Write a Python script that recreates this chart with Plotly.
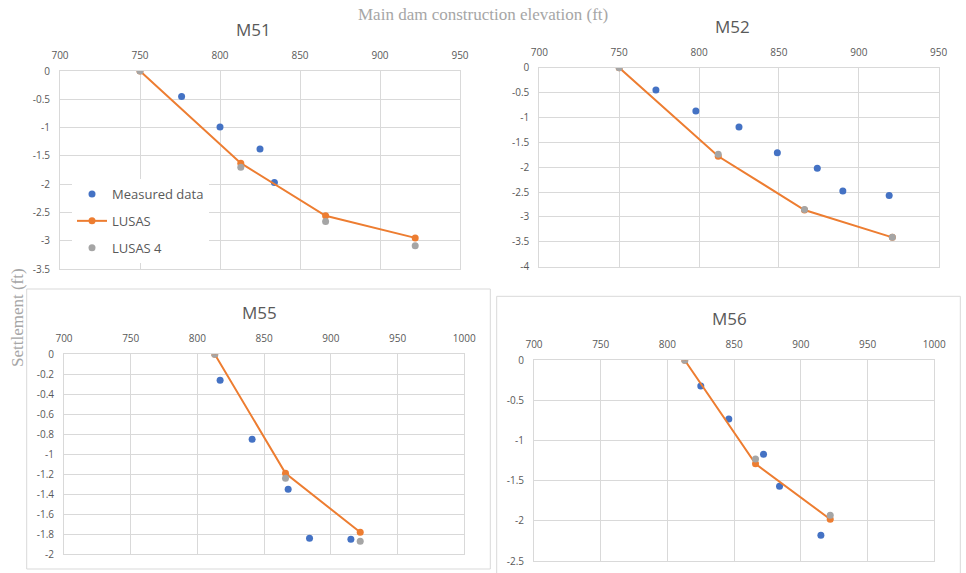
import plotly.graph_objects as go

W, H = 966, 573

# ---------------- data ----------------
m51_meas_x = [776, 800, 825, 834]
m51_meas_y = [-0.45, -0.99, -1.38, -1.97]
m51_lusas_x = [750, 813, 866, 922]
m51_lusas_y = [0, -1.63, -2.56, -2.95]
m51_lusas4_x = [750, 813, 866, 922]
m51_lusas4_y = [0, -1.70, -2.66, -3.09]

m52_meas_x = [773, 798, 825, 849, 874, 890, 919]
m52_meas_y = [-0.45, -0.87, -1.19, -1.71, -2.02, -2.48, -2.57]
m52_lusas_x = [750, 812, 866, 921]
m52_lusas_y = [0, -1.78, -2.86, -3.41]
m52_lusas4_x = [750, 812, 866, 921]
m52_lusas4_y = [0, -1.74, -2.85, -3.41]

m55_meas_x = [817, 841, 868, 884, 915]
m55_meas_y = [-0.26, -0.85, -1.35, -1.84, -1.85]
m55_lusas_x = [813, 866, 922]
m55_lusas_y = [0, -1.19, -1.78]
m55_lusas4_x = [813, 866, 922]
m55_lusas4_y = [0, -1.24, -1.87]

m56_meas_x = [825, 846, 872, 884, 915]
m56_meas_y = [-0.32, -0.73, -1.17, -1.57, -2.18]
m56_lusas_x = [813, 866, 922]
m56_lusas_y = [0, -1.29, -1.98]
m56_lusas4_x = [813, 866, 922]
m56_lusas4_y = [0, -1.23, -1.93]

panel_titles = ["M51", "M52", "M55", "M56"]
series_names = ["Measured data", "LUSAS", "LUSAS 4"]
x_ranges = [(700, 950), (700, 950), (700, 1000), (700, 1000)]
y_ranges = [(-3.5, 0), (-4, 0), (-2, 0), (-2.5, 0)]
y_steps = [0.5, 0.5, 0.2, 0.5]
x_step = 50

main_title = "Main dam construction elevation (ft)"
y_title = "Settlement (ft)"

# ---------------- styling ----------------
BLUE = "#4472C4"
ORANGE = "#ED7D31"
GRAY = "#A5A5A5"
GRID = "#D9D9D9"
TXT = "#595959"
FONT = "Open Sans"

# plot-area boxes in pixels: (left, top, right, bottom)
boxes = [
    (60, 71, 460, 269),
    (539.3, 67.7, 938.7, 266.7),
    (64, 354.3, 464.3, 554.3),
    (534, 360.3, 934.3, 561),
]
title_pos = [(253, 30), (732, 26), (259, 312), (729, 318)]

data = [
    (m51_meas_x, m51_meas_y, m51_lusas_x, m51_lusas_y, m51_lusas4_x, m51_lusas4_y),
    (m52_meas_x, m52_meas_y, m52_lusas_x, m52_lusas_y, m52_lusas4_x, m52_lusas4_y),
    (m55_meas_x, m55_meas_y, m55_lusas_x, m55_lusas_y, m55_lusas4_x, m55_lusas4_y),
    (m56_meas_x, m56_meas_y, m56_lusas_x, m56_lusas_y, m56_lusas4_x, m56_lusas4_y),
]

fig = go.Figure()


def fmt(v):
    s = f"{round(v, 6):g}"
    return "0" if s in ("-0", "0") else s


def ticks(lo, hi, step):
    n = int(round((hi - lo) / step))
    vals = [round(lo + i * step, 6) for i in range(n + 1)]
    return vals, [fmt(v) for v in vals]


for i, (mx, my, lx, ly, l4x, l4y) in enumerate(data):
    k = "" if i == 0 else str(i + 1)
    xa, ya = "x" + k, "y" + k
    show = i == 0
    fig.add_trace(go.Scatter(x=mx, y=my, mode="markers", name=series_names[0],
                             marker=dict(color=BLUE, size=7), xaxis=xa, yaxis=ya,
                             showlegend=show, legendgroup="a"))
    fig.add_trace(go.Scatter(x=lx, y=ly, mode="lines+markers", name=series_names[1],
                             line=dict(color=ORANGE, width=2),
                             marker=dict(color=ORANGE, size=7), xaxis=xa, yaxis=ya,
                             showlegend=show, legendgroup="b"))
    fig.add_trace(go.Scatter(x=l4x, y=l4y, mode="markers", name=series_names[2],
                             marker=dict(color=GRAY, size=7), xaxis=xa, yaxis=ya,
                             showlegend=show, legendgroup="c"))

    l, t, r, b = boxes[i]
    xv, xt = ticks(x_ranges[i][0], x_ranges[i][1], x_step)
    yv, yt = ticks(y_ranges[i][0], y_ranges[i][1], y_steps[i])
    axis_common = dict(showgrid=True, gridcolor=GRID, gridwidth=1, zeroline=False,
                       showline=True, linecolor=GRID, linewidth=1, mirror=True,
                       ticks="outside", ticklen=7, tickcolor="rgba(0,0,0,0)",
                       tickfont=dict(family=FONT, size=10, color=TXT),
                       tickmode="array", fixedrange=True, automargin=False)
    fig.update_layout(**{
        "xaxis" + k: dict(domain=[l / W, r / W], range=list(x_ranges[i]),
                          anchor=ya, side="top", tickvals=xv, ticktext=xt, **axis_common),
        "yaxis" + k: dict(domain=[1 - b / H, 1 - t / H], range=list(y_ranges[i]),
                          anchor=xa, tickvals=yv, ticktext=yt, **axis_common),
    })
    tx, ty = title_pos[i]
    fig.add_annotation(x=tx / W, y=1 - ty / H, xref="paper", yref="paper",
                       xanchor="center", yanchor="middle",
                       text=panel_titles[i], showarrow=False,
                       font=dict(family=FONT, size=17, color=TXT))

# panel borders (lower charts)
for (x0, y0, x1, y1) in [(26.7, 289, 490.3, 569), (496.7, 296.3, 960.3, 580)]:
    fig.add_shape(type="rect", xref="paper", yref="paper",
                  x0=x0 / W, x1=x1 / W, y0=1 - y1 / H, y1=1 - y0 / H,
                  line=dict(color=GRID, width=1), fillcolor="rgba(0,0,0,0)")

fig.add_annotation(x=483 / W, y=1 - 15 / H, xref="paper", yref="paper", text=main_title,
                   xanchor="center", yanchor="middle",
                   showarrow=False, font=dict(family="Liberation Serif", size=17, color="#A6A6A6"))
fig.add_annotation(x=17 / W, y=1 - 318 / H, xref="paper", yref="paper", text=y_title,
                   xanchor="center", yanchor="middle",
                   textangle=-90, showarrow=False,
                   font=dict(family="Liberation Serif", size=17, color="#A6A6A6"))

fig.update_layout(
    width=W, height=H, autosize=False,
    margin=dict(l=0, r=0, t=0, b=0, autoexpand=False),
    paper_bgcolor="white", plot_bgcolor="white",
    legend=dict(x=72 / W, y=1 - 179 / H, xanchor="left", yanchor="top",
                bgcolor="white", font=dict(family=FONT, size=13, color=TXT),
                traceorder="grouped", tracegroupgap=7, itemclick=False),
)

fig.write_html("out.html", config={"displayModeBar": False},
               post_script="document.body.style.margin='0';document.body.style.overflow='hidden';")
